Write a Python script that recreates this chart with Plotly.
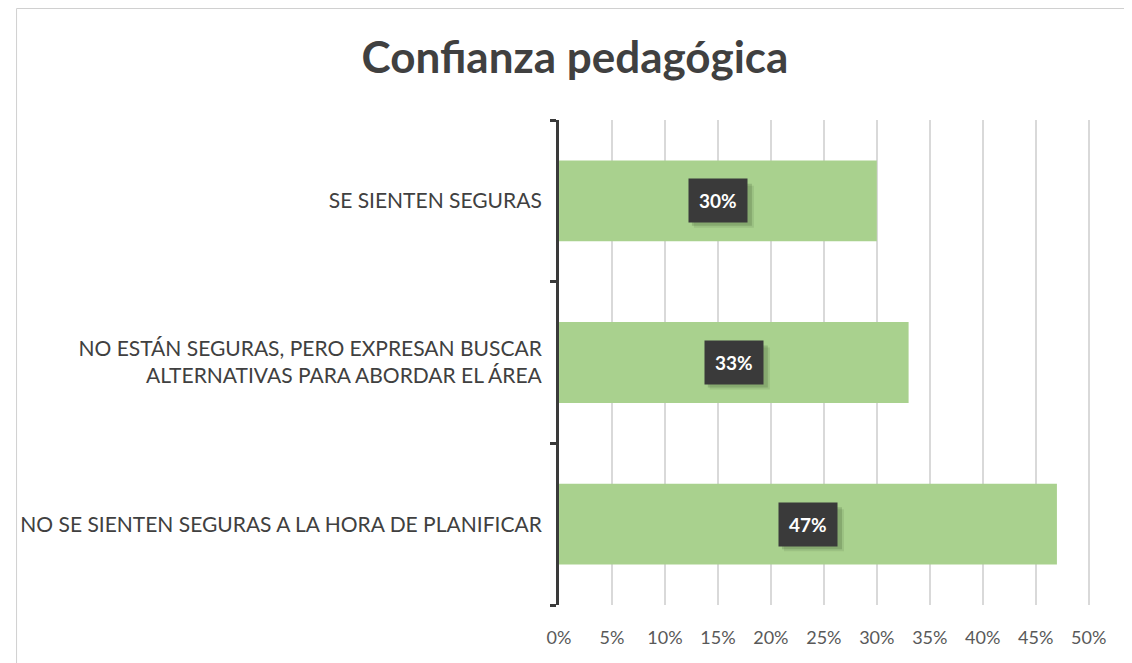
import plotly.graph_objects as go

categories = [
    "NO SE SIENTEN SEGURAS A LA HORA DE PLANIFICAR",
    "NO ESTÁN SEGURAS, PERO EXPRESAN BUSCAR<br>ALTERNATIVAS PARA ABORDAR EL ÁREA",
    "SE SIENTEN SEGURAS",
]
values = [47, 33, 30]
tick_vals = [0, 5, 10, 15, 20, 25, 30, 35, 40, 45, 50]
tick_text = [f"{v}%" for v in tick_vals]

W, H = 1132, 663
L, R, T, B = 547, 46, 112, 66
FONT = "Lato, 'Open Sans', sans-serif"

fig = go.Figure()
fig.add_trace(go.Bar(
    x=values, y=categories, orientation="h",
    marker=dict(color="#a9d18e", line=dict(width=0)),
    hoverinfo="skip",
))

for c, v in zip(categories, values):
    # soft shadow behind the label box (pixel-sized, anchored at the label)
    for k, a in ((6, 0.10), (4, 0.18)):
        fig.add_shape(type="rect", xref="x", yref="y",
                      xsizemode="pixel", ysizemode="pixel",
                      xanchor=v / 2, yanchor=c,
                      x0=-30 + k, x1=30 + k, y0=-21 - k, y1=21 - k,
                      fillcolor=f"rgba(40,60,30,{a})", line=dict(width=0),
                      layer="above")
    fig.add_annotation(
        x=v / 2, y=c, xref="x", yref="y",
        text=f"<b>{v}%</b>", showarrow=False,
        font=dict(family=FONT, size=19, color="white"),
        bgcolor="#3a3a3a", borderpad=10,
    )

pw, ph = W - L - R, H - T - B
# outer chart border (top and left)
fig.add_shape(type="line", xref="paper", yref="paper",
              x0=(0.5 - L) / pw, x1=(W - L) / pw, y0=(H - B - 0.5) / ph, y1=(H - B - 0.5) / ph,
              line=dict(color="#d0d0d0", width=1))
fig.add_shape(type="line", xref="paper", yref="paper",
              x0=(0.5 - L) / pw, x1=(0.5 - L) / pw, y0=(H - B - 0.5) / ph, y1=-B / ph,
              line=dict(color="#d0d0d0", width=1))

fig.update_layout(
    width=W, height=H,
    margin=dict(l=L, r=R, t=T, b=B),
    paper_bgcolor="white", plot_bgcolor="white",
    title=dict(text="<b>Confianza pedagógica</b>", x=(575 - 8) / W, xanchor="center",
               y=1 - 50 / H, yanchor="middle",
               font=dict(family=FONT, size=44, color="#404040")),
    bargap=0.5,
    showlegend=False,
    xaxis=dict(range=[0, 50.5], tickvals=tick_vals, ticktext=tick_text,
               showgrid=True, gridcolor="#d9d9d9", gridwidth=1.5,
               zeroline=False, showline=False, ticks="",
               ticklabelstandoff=20,
               tickfont=dict(family=FONT, size=18, color="#595959"),
               fixedrange=True),
    yaxis=dict(categoryorder="array", categoryarray=categories,
               showline=True, linecolor="#3a3a3a", linewidth=3,
               ticks="outside", tickson="boundaries", ticklen=6, tickwidth=3,
               tickcolor="#3a3a3a", ticklabelstandoff=10,
               tickfont=dict(family=FONT, size=21, color="#404040"),
               showgrid=False, fixedrange=True),
)

fig.write_html("out.html")
